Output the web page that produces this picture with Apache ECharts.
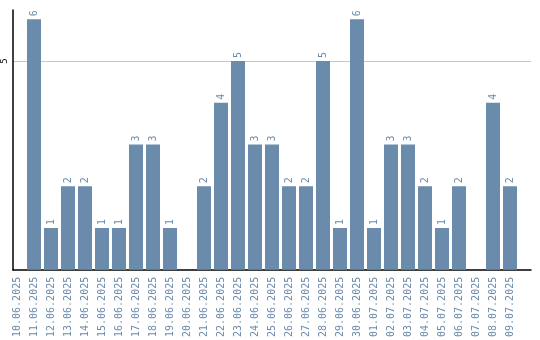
<!DOCTYPE html>
<html><head><meta charset="utf-8">
<script src="https://cdn.jsdelivr.net/npm/echarts@6/dist/echarts.min.js"></script>
<style>html,body{margin:0;padding:0;background:#fff}#c{width:540px;height:340px}</style>
</head><body><div id="c"></div>
<script>
const categories = ["10.06.2025","11.06.2025","12.06.2025","13.06.2025","14.06.2025","15.06.2025","16.06.2025","17.06.2025","18.06.2025","19.06.2025","20.06.2025","21.06.2025","22.06.2025","23.06.2025","24.06.2025","25.06.2025","26.06.2025","27.06.2025","28.06.2025","29.06.2025","30.06.2025","01.07.2025","02.07.2025","03.07.2025","04.07.2025","05.07.2025","06.07.2025","07.07.2025","08.07.2025","09.07.2025"];
const values = [0,6,1,2,2,1,1,3,3,1,0,2,4,5,3,3,2,2,5,1,6,1,3,3,2,1,2,0,4,2];
const yTicks = [5];

const chart = echarts.init(document.getElementById('c'), null, {renderer:'canvas'});
chart.setOption({
  animation:false,
  grid:[
    {left:10,right:9,top:10,bottom:70,containLabel:false},
    {left:8.5,right:21.5,top:10,bottom:70,containLabel:false}
  ],
  xAxis:[{
    gridIndex:0, type:'category', data:categories,
    axisLine:{show:true,lineStyle:{color:'#000',width:1.5}},
    axisTick:{show:false}, axisLabel:{show:false}, splitLine:{show:false}
  },{
    gridIndex:1, type:'category', data:categories,
    axisLine:{show:false}, axisTick:{show:false}, splitLine:{show:false},
    axisLabel:{rotate:90,interval:0,color:'#6a8aab',fontFamily:'DejaVu Sans Mono',fontSize:10,margin:7}
  }],
  yAxis:[{
    gridIndex:0, type:'value', min:0, max:6.22, interval:5,
    axisLine:{show:true,lineStyle:{color:'#000',width:1.5}},
    axisTick:{show:false},
    splitLine:{show:true,showMinLine:false,showMaxLine:false,lineStyle:{color:'#c8c8c8',width:1}},
    axisLabel:{showMinLabel:false,showMaxLabel:false,rotate:90,color:'#000',fontFamily:'DejaVu Sans Mono',fontSize:9,margin:4,
      formatter:v=>yTicks.includes(v)?String(v):''}
  },{
    gridIndex:1, type:'value', min:0, max:6.22, interval:5,
    axisLine:{show:false}, axisTick:{show:false}, axisLabel:{show:false}, splitLine:{show:false}
  }],
  series:[{
    type:'bar', xAxisIndex:1, yAxisIndex:1, data:values, barWidth:14,
    itemStyle:{color:'#6a8bab'},
    label:{show:true,position:'top',rotate:90,align:'left',verticalAlign:'middle',distance:3,color:'#6a8aab',fontFamily:'DejaVu Sans Mono',fontSize:10,
      formatter:p=>p.value>0?String(p.value):''}
  }]
});
</script></body></html>
